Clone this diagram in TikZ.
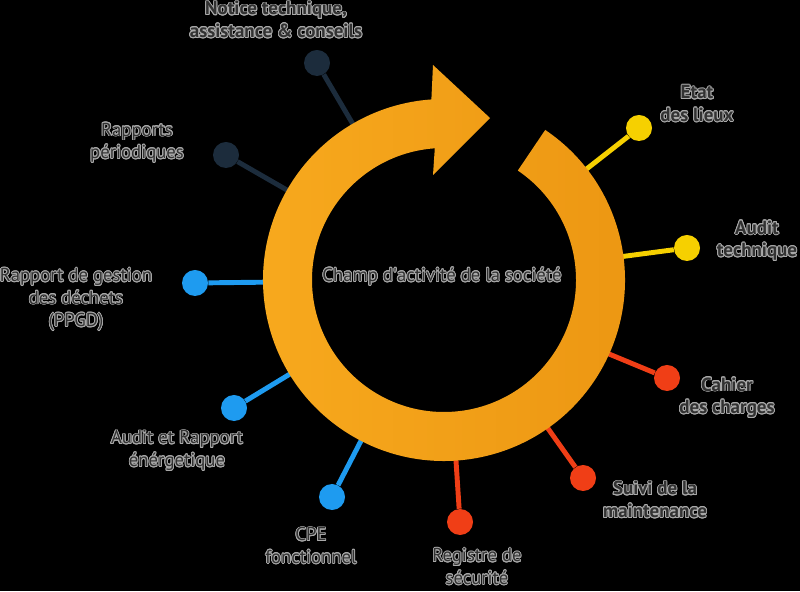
\documentclass[tikz,border=0pt]{standalone}
\usepackage{fontspec}
\setmainfont{PT Sans}
\usepackage{contour}
\contourlength{0.6pt}
\definecolor{ringorange}{RGB}{248,170,30}
\definecolor{ringdark}{RGB}{236,150,18}
\definecolor{navydot}{RGB}{28,44,60}
\definecolor{bluedot}{RGB}{30,155,240}
\definecolor{reddot}{RGB}{240,62,22}
\definecolor{yellowdot}{RGB}{246,208,0}
\definecolor{labelgray}{RGB}{50,50,50}
\definecolor{halogray}{RGB}{170,170,170}
\newcommand{\halo}[1]{\contour{halogray}{#1}}

\begin{document}
\begin{tikzpicture}[x=0.025cm, y=0.025cm,
    knob/.style={circle, fill=#1, minimum size=0.65cm, inner sep=0pt},
    stem/.style={draw=#1, line width=3.5pt},
    lbl/.style={text=labelgray, align=center, font=\fontsize{13.3}{16}\selectfont},
    lblb/.style={lbl, font=\fontsize{13.5}{16}\selectfont\bfseries}]
% Background (black, fixes the size)
\fill[black] (0,0) rectangle (800,591);
\useasboundingbox (0,0) rectangle (800,591);
\coordinate (c) at (444,311);

% Ends of the spokes on the ring
\coordinate (e1) at ([shift={(c)}]120.3:176);
\coordinate (e2) at ([shift={(c)}]150.2:176);
\coordinate (e3) at ([shift={(c)}]180.7:176);
\coordinate (e4) at ([shift={(c)}]211.4:176);
\coordinate (e5) at ([shift={(c)}]242.7:176);
\coordinate (e6) at ([shift={(c)}]273.8:176);
\coordinate (e7) at ([shift={(c)}]305:176);
\coordinate (e8) at ([shift={(c)}]335.8:176);
\coordinate (e9) at ([shift={(c)}]7.5:176);
\coordinate (e10) at ([shift={(c)}]37.9:176);

% Knobs
\node[knob=navydot] (k1) at (317,528) {};
\node[knob=navydot] (k2) at (226,436) {};
\node[knob=bluedot] (k3) at (195,308) {};
\node[knob=bluedot] (k4) at (234,183) {};
\node[knob=bluedot] (k5) at (332,94) {};
\node[knob=reddot] (k6) at (460,69) {};
\node[knob=reddot] (k7) at (583,113) {};
\node[knob=reddot] (k8) at (667,213) {};
\node[knob=yellowdot] (k9) at (687,343) {};
\node[knob=yellowdot] (k10) at (639,463) {};

% Spokes
\draw[stem=navydot] (e1) -- (k1);
\draw[stem=navydot] (e2) -- (k2);
\draw[stem=bluedot] (e3) -- (k3);
\draw[stem=bluedot] (e4) -- (k4);
\draw[stem=bluedot] (e5) -- (k5);
\draw[stem=reddot] (e6) -- (k6);
\draw[stem=reddot] (e7) -- (k7);
\draw[stem=reddot] (e8) -- (k8);
\draw[stem=yellowdot] (e9) -- (k9);
\draw[stem=yellowdot] (e10) -- (k10);

% Ring with its arrow head
\shade[left color=ringorange, right color=ringdark]
  ([shift={(c)}]56:181) arc[start angle=56, end angle=-266, radius=181]
  -- (433,526) -- (490,473) -- (433,416)
  -- ([shift={(c)}]94:132) arc[start angle=94, end angle=416, radius=132] -- cycle;

% Labels
\node[lbl] (centre) at (442,314) {\halo{Champ d\textquotesingle activité de la société}};
\node[lblb] (notice) at (276,571) {\halo{Notice technique,}\\\halo{assistance \& conseils}};
\node[lbl] (rapports) at (137,448) {\halo{Rapports}\\\halo{périodiques}};
\node[lbl] (ppgd) at (76,291) {\halo{Rapport de gestion}\\\halo{des déchets}\\\halo{(PPGD)}};
\node[lbl] (energie) at (177,140) {\halo{Audit et Rapport}\\\halo{énérgetique}};
\node[lbl] (cpe) at (311,45) {\halo{CPE}\\\halo{fonctionnel}};
\node[lbl] (registre) at (477,24) {\halo{Registre de}\\\halo{sécurité}};
\node[lblb] (suivi) at (655,91) {\halo{Suivi de la}\\\halo{maintenance}};
\node[lblb] (cahier) at (727,193) {\halo{Cahier}\\\halo{des charges}};
\node[lblb] (auditt) at (757,350) {\halo{Audit}\\\halo{technique}};
\node[lblb] (etat) at (697,487) {\halo{Etat}\\\halo{des lieux}};
\end{tikzpicture}
\end{document}
